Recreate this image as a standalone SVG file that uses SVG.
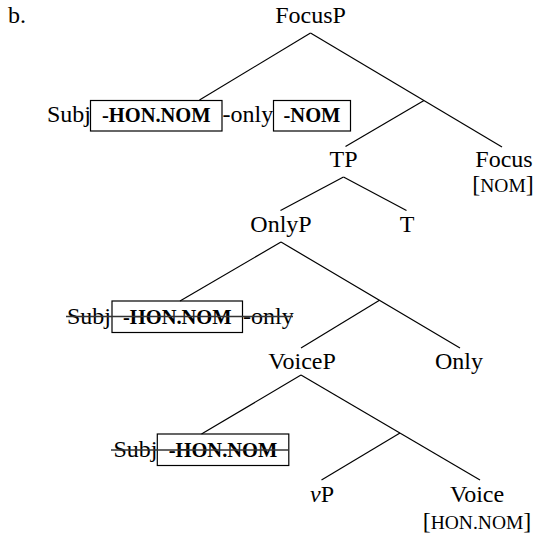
<svg xmlns="http://www.w3.org/2000/svg" width="536" height="535" viewBox="0 0 536 535">
<style>
text { font-family: "Liberation Serif", "Times New Roman", serif; font-size: 24px; fill: #000; }
.n { text-anchor: middle; }
.sc { font-size: 19.5px; }
.b { font-weight: bold; font-size: 20.5px; text-anchor: middle; }
.box { fill: none; stroke: #000; stroke-width: 1.2; }
.edge { stroke: #000; stroke-width: 1.2; fill: none; }
.strike { stroke: #333; stroke-width: 1.4; }
</style>
<rect width="536" height="535" fill="#fff"/>
<text x="8" y="23">b.</text>
<g id="connectors">
  <line class="edge" x1="310.5" y1="33" x2="199.5" y2="100"/>
  <line class="edge" x1="310.5" y1="33" x2="502" y2="147"/>
  <line class="edge" x1="424" y1="100.5" x2="345.5" y2="146.5"/>
  <line class="edge" x1="343.5" y1="177" x2="280.5" y2="210.5"/>
  <line class="edge" x1="343.5" y1="177" x2="406.5" y2="210.5"/>
  <line class="edge" x1="281" y1="242" x2="180" y2="301"/>
  <line class="edge" x1="281" y1="242" x2="460" y2="348"/>
  <line class="edge" x1="379.5" y1="300.3" x2="301" y2="348"/>
  <line class="edge" x1="301" y1="375" x2="201.5" y2="434"/>
  <line class="edge" x1="301" y1="375" x2="480" y2="480"/>
  <line class="edge" x1="400" y1="433" x2="321.5" y2="480"/>
</g>
<g id="FocusP"><text class="n" x="310.5" y="23">FocusP</text></g>
<g id="subj1">
  <text x="47" y="122">Subj</text>
  <rect class="box" x="90.5" y="100.5" width="131.5" height="30.5"/>
  <text class="b" x="156.3" y="122">-HON.NOM</text>
  <text x="222.5" y="122">-only</text>
  <rect class="box" x="273.5" y="100.5" width="77" height="30.5"/>
  <text class="b" x="312" y="122">-NOM</text>
</g>
<g id="TP"><text class="n" x="343.5" y="167">TP</text></g>
<g id="Focus">
  <text class="n" x="504" y="167">Focus</text>
  <text class="n" x="503" y="192">[<tspan class="sc">NOM</tspan>]</text>
</g>
<g id="OnlyP"><text class="n" x="281" y="232">OnlyP</text></g>
<g id="T"><text class="n" x="407" y="232">T</text></g>
<g id="subj2">
  <text x="67" y="324">Subj</text>
  <rect class="box" x="112" y="301" width="130.5" height="31.5"/>
  <text class="b" x="177.3" y="324">-HON.NOM</text>
  <text x="243" y="324">-only</text>
  <line class="strike" x1="66" y1="316.5" x2="293" y2="316.5"/>
</g>
<g id="VoiceP"><text class="n" x="302" y="369">VoiceP</text></g>
<g id="Only"><text class="n" x="459" y="369">Only</text></g>
<g id="subj3">
  <text x="113.5" y="457">Subj</text>
  <rect class="box" x="157.3" y="434" width="131.5" height="31.5"/>
  <text class="b" x="223" y="457">-HON.NOM</text>
  <line class="strike" x1="111" y1="450" x2="289" y2="450"/>
</g>
<g id="vP"><text class="n" x="322" y="502"><tspan font-style="italic">v</tspan>P</text></g>
<g id="Voice">
  <text class="n" x="477" y="502">Voice</text>
  <text class="n" x="477" y="529">[<tspan class="sc">HON.NOM</tspan>]</text>
</g>
</svg>
